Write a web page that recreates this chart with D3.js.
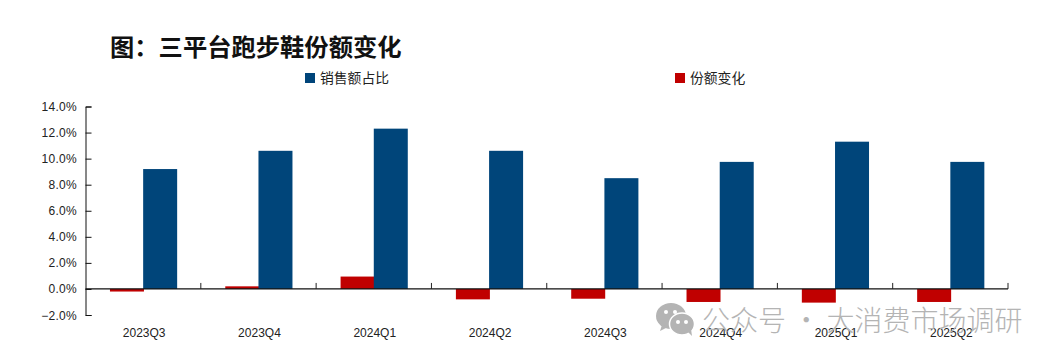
<!DOCTYPE html>
<html>
<head>
<meta charset="utf-8">
<script src="https://cdn.jsdelivr.net/npm/d3@7"></script>
<style>
  body { margin: 0; background: #fff; }
  text { font-family: "Noto Sans CJK SC", sans-serif; fill: #222; }
  .num { font-family: "Liberation Sans", sans-serif; font-size: 12px; }
</style>
</head>
<body>
<div id="chart"></div>
<script>
var quarters = ['2023Q3','2023Q4','2024Q1','2024Q2','2024Q3','2024Q4','2025Q1','2025Q2']
var share = [9.2, 10.6, 12.3, 10.6, 8.5, 9.75, 11.3, 9.75]
var change = [-0.2, 0.2, 0.95, -0.8, -0.75, -1.0, -1.05, -1.0]
var yTicks = [-2, 0, 2, 4, 6, 8, 10, 12, 14]

var width = 1056, height = 363
var svg = d3.select('#chart').append('svg')
  .attr('width', width).attr('height', height).style('display', 'block')

var x = d3.scaleBand().domain(quarters).range([85.5, 1008])
var inner = d3.scaleBand().domain(['change', 'share']).range([0, x.bandwidth()]).paddingOuter(0.696).paddingInner(0)
var y = d3.scaleLinear().domain([-2, 14]).range([315, 106.5])

// bars
var colours = { share: '#00457A', change: '#C00000' }
var groups = svg.selectAll('.q').data(quarters).enter().append('g')
  .attr('class', 'q')
  .attr('transform', d => 'translate(' + x(d) + ',0)')

// red sits a touch over the blue one, same as the reference
groups.append('rect')
  .attr('x', inner('change') + 0.8)
  .attr('width', inner.bandwidth())
  .attr('y', (d, i) => y(Math.max(0, change[i])))
  .attr('height', (d, i) => Math.abs(y(change[i]) - y(0)))
  .attr('fill', colours.change)

groups.append('rect')
  .attr('x', inner('share'))
  .attr('width', inner.bandwidth())
  .attr('y', (d, i) => y(share[i]))
  .attr('height', (d, i) => y(0) - y(share[i]))
  .attr('fill', colours.share)

// y axis
var yAxis = svg.append('g')
  .attr('transform', 'translate(85.5,0)')
  .call(d3.axisRight(y).tickValues(yTicks).tickSize(6).tickFormat(''))
yAxis.select('.domain').attr('stroke', '#111').attr('stroke-width', 1)
yAxis.selectAll('.tick line').attr('stroke', '#111')

svg.selectAll('.ylab').data(yTicks).enter().append('text')
  .attr('class', 'num')
  .attr('x', 77).attr('y', d => y(d) + 4.5)
  .attr('text-anchor', 'end')
  .style('letter-spacing', '.3px')
  .text(d => (d < 0 ? '−' : '') + Math.abs(d).toFixed(1) + '%')

// x axis, ticks point up and sit between the groups
var xAxis = svg.append('g').attr('transform', 'translate(0,' + y(0) + ')')
xAxis.append('line').attr('x1', 85.5).attr('x2', x.range()[1]).attr('stroke', '#111').attr('stroke-width', 1.2)
xAxis.selectAll('.xt').data(quarters).enter().append('line')
  .attr('x1', d => x(d) + x.bandwidth()).attr('x2', d => x(d) + x.bandwidth())
  .attr('y1', 0).attr('y2', -6)
  .attr('stroke', '#222')

svg.selectAll('.xlab').data(quarters).enter().append('text')
  .attr('class', 'num')
  .attr('x', d => x(d) + x.bandwidth() / 2 + 1)
  .attr('y', 337)
  .attr('text-anchor', 'middle')
  .text(d => d)

// title
svg.append('text').attr('x', 110).attr('y', 56)
  .style('font-size', '24.3px').style('font-weight', 700).style('fill', '#111')
  .text('图：三平台跑步鞋份额变化')

// legend
var legendItems = [['销售额占比', colours.share, 305], ['份额变化', colours.change, 675]]
legendItems.forEach(function (l) {
  svg.append('rect').attr('x', l[2]).attr('y', 73).attr('width', 10).attr('height', 10).attr('fill', l[1])
  svg.append('text').attr('x', l[2] + 15).attr('y', 83).style('font-size', '13.8px').text(l[0])
})

// watermark
var wm = svg.append('g').attr('fill', '#b4b4b4')
wm.append('ellipse').attr('cx', 671).attr('cy', 316).attr('rx', 15).attr('ry', 13)
wm.append('path').attr('d', 'M662 325 L660 331 L668 327 Z')
wm.append('ellipse').attr('cx', 682).attr('cy', 324).attr('rx', 12.5).attr('ry', 11).attr('stroke', '#fff').attr('stroke-width', 1.5)
wm.append('path').attr('d', 'M688 332 L692 336 L691 329 Z')
;[[666, 312], [675, 312], [678, 322], [686, 322]].forEach(function (p) {
  wm.append('circle').attr('cx', p[0]).attr('cy', p[1]).attr('r', 2).attr('fill', '#fff')
})
svg.append('text').attr('x', 702).attr('y', 331)
  .style('font-size', '28px').style('font-weight', 300).style('fill', '#b4b4b4')
  .text('公众号 · 大消费市场调研')
</script>
</body>
</html>
